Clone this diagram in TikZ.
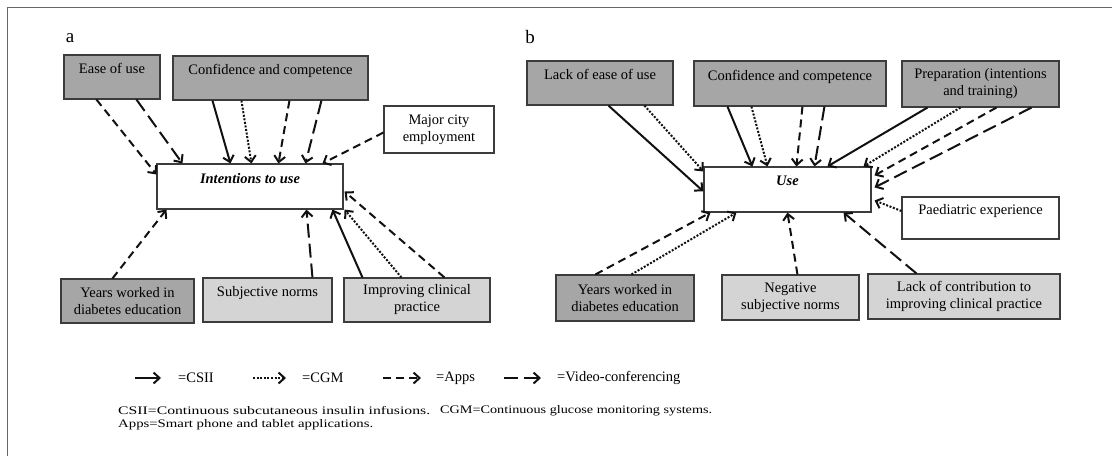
\documentclass[tikz,border=0pt]{standalone}
\usepackage{fontspec}
\setmainfont{Liberation Serif}
\usetikzlibrary{arrows.meta,calc}
\definecolor{dkbox}{HTML}{A6A6A6}
\definecolor{ltbox}{HTML}{D4D4D4}
\definecolor{edgec}{HTML}{3C3C3C}
\definecolor{ink}{HTML}{111111}
\definecolor{framec}{HTML}{666666}
\begin{document}
\begin{tikzpicture}[x=1pt,y=-1pt,
  box/.style={draw=edgec,line width=1.1pt,inner sep=0pt,align=center,
    font=\fontsize{14.5}{17}\selectfont},
  darkbox/.style={box,fill=dkbox},
  lightbox/.style={box,fill=ltbox},
  whitebox/.style={box,fill=white},
  panel/.style={font=\fontsize{19}{19}\selectfont,inner sep=0pt},
  lk/.style={draw=ink,line width=2pt,-{Straight Barb[length=6pt,width=11pt]}},
  csii/.style={lk},
  cgm/.style={lk,dash pattern=on 2pt off 1.6pt},
  apps/.style={lk,dash pattern=on 8pt off 5pt},
  video/.style={lk,dash pattern=on 14pt off 6pt},
  legtxt/.style={font=\fontsize{14.5}{15}\selectfont,inner sep=0pt,anchor=west},
  foot/.style={font=\fontsize{11.5}{12}\selectfont,inner sep=0pt,anchor=west}
]
\useasboundingbox (0,0) rectangle (1116,456);
\draw[framec,line width=1pt] (7,456) -- (7,7) -- (1112,7);

% ---------- panel a ----------
\node[panel] (pa) at (70,38) {a};
\node[darkbox,minimum width=96pt,minimum height=44pt] (ease) at (112,77) {Ease of use\\\mbox{}};
\node[darkbox,minimum width=195pt,minimum height=44pt] (conf) at (270.5,78) {Confidence and competence\\\mbox{}};
\node[whitebox,minimum width=110pt,minimum height=47pt] (city) at (439,129.5) {Major city\\employment};
\node[whitebox,minimum width=186pt,minimum height=45pt] (intent) at (250,186.5) {\textbf{\textit{Intentions to use}}\\\mbox{}};
\node[darkbox,minimum width=133pt,minimum height=44pt] (years) at (127.5,301) {Years worked in\\diabetes education};
\node[lightbox,minimum width=129pt,minimum height=44pt] (subj) at (267.5,300) {Subjective norms\\\mbox{}};
\node[lightbox,minimum width=146pt,minimum height=44pt] (impr) at (417,300) {Improving clinical\\practice};

\draw[apps]  ($(ease.south west)+(33,0)$) -- ($(intent.north west)+(0,11)$);
\draw[video] ($(ease.south west)+(73,0)$) -- ($(intent.north west)+(26,0)$);
\draw[csii]  ($(conf.south west)+(40,0)$) -- ($(intent.north west)+(74,0)$);
\draw[cgm]   ($(conf.south west)+(69,0)$) -- ($(intent.north west)+(95,0)$);
\draw[apps]  ($(conf.south west)+(117,0)$) -- ($(intent.north west)+(122,0)$);
\draw[video] ($(conf.south west)+(149,0)$) -- ($(intent.north west)+(149,0)$);
\draw[apps]  ($(city.west)+(0,3)$) -- ($(intent.north west)+(166,0)$);
\draw[apps]  ($(years.north west)+(52,0)$) -- ($(intent.south west)+(10,0)$);
\draw[video] ($(subj.north west)+(110,0)$) -- ($(intent.south west)+(150,0)$);
\draw[csii]  ($(impr.north west)+(19,0)$) -- ($(intent.south west)+(176,0)$);
\draw[cgm]   ($(impr.north west)+(58,0)$) -- ($(intent.south east)+(1,0)$);
\draw[apps]  ($(impr.north west)+(101,0)$) -- ($(intent.east)+(1,5)$);

% ---------- panel b ----------
\node[panel] (pb) at (530,37) {b};
\node[darkbox,minimum width=146pt,minimum height=44pt] (lease) at (600,83) {Lack of ease of use\\\mbox{}};
\node[darkbox,minimum width=192pt,minimum height=45pt] (conf2) at (790,83.5) {Confidence and competence\\\mbox{}};
\node[darkbox,minimum width=157pt,minimum height=46pt] (prep) at (980.5,84) {Preparation (intentions\\and training)};
\node[whitebox,minimum width=167pt,minimum height=45pt] (use) at (787.5,189.5) {\textbf{\textit{Use}}\\\mbox{}};
\node[whitebox,minimum width=157pt,minimum height=42pt] (paed) at (980.5,218) {Paediatric experience\\\mbox{}};
\node[darkbox,minimum width=138pt,minimum height=46pt] (years2) at (625,298) {Years worked in\\diabetes education};
\node[lightbox,minimum width=137pt,minimum height=45pt] (neg) at (790.5,297.5) {Negative\\subjective norms};
\node[lightbox,minimum width=192pt,minimum height=45pt] (lack) at (964,296.5) {Lack of contribution to\\improving clinical practice};

\draw[csii]  ($(lease.south west)+(82,0)$) -- ($(use.north west)+(0,25)$);
\draw[cgm]   ($(lease.south west)+(118,0)$) -- ($(use.north west)+(0,5)$);
\draw[csii]  ($(conf2.south west)+(34,0)$) -- ($(use.north west)+(49,0)$);
\draw[cgm]   ($(conf2.south west)+(58,0)$) -- ($(use.north west)+(64,0)$);
\draw[apps]  ($(conf2.south west)+(109,0)$) -- ($(use.north west)+(93,0)$);
\draw[video] ($(conf2.south west)+(131,0)$) -- ($(use.north west)+(111,0)$);
\draw[csii]  ($(prep.south west)+(26,0)$) -- ($(use.north west)+(124,0)$);
\draw[cgm]   ($(prep.south west)+(59,0)$) -- ($(use.north east)+(-8,0)$);
\draw[apps]  ($(prep.south west)+(95,0)$) -- ($(use.north east)+(3,9)$);
\draw[video] ($(prep.south west)+(130,0)$) -- ($(use.north east)+(3,21)$);
\draw[cgm]   ($(paed.west)+(0,-7)$) -- ($(use.north east)+(3,34)$);
\draw[apps]  ($(years2.north west)+(40,0)$) -- ($(use.south west)+(7,0)$);
\draw[cgm]   ($(years2.north west)+(76,0)$) -- ($(use.south west)+(33,0)$);
\draw[apps]  ($(neg.north west)+(76,0)$) -- ($(use.south west)+(84,0)$);
\draw[video] ($(lack.north west)+(49,0)$) -- ($(use.south east)+(-28,0)$);

% ---------- legend ----------
\coordinate (l1a) at (135,378); \coordinate (l1b) at (161,378);
\coordinate (l2a) at (253,378); \coordinate (l2b) at (286,378);
\coordinate (l3a) at (383,378); \coordinate (l3b) at (421,378);
\coordinate (l4a) at (504,378); \coordinate (l4b) at (541,378);
\draw[csii]  (l1a) -- (l1b);
\draw[cgm]   (l2a) -- (l2b);
\draw[apps]  (l3a) -- (l3b);
\draw[video] (l4a) -- (l4b);
\node[legtxt] (t1) at (178,378) {=CSII};
\node[legtxt] (t2) at (302,378) {=CGM};
\node[legtxt] (t3) at (436,378) {=Apps};
\node[legtxt] (t4) at (557,378) {=Video-conferencing};

\node[foot] (f1) at (118,411) {\resizebox{312pt}{\height}{CSII=Continuous subcutaneous insulin infusions.}};
\node[foot] (f2) at (440,411) {\resizebox{272pt}{\height}{CGM=Continuous glucose monitoring systems.}};
\node[foot] (f3) at (118,425) {\resizebox{255pt}{\height}{Apps=Smart phone and tablet applications.}};
\end{tikzpicture}
\end{document}
